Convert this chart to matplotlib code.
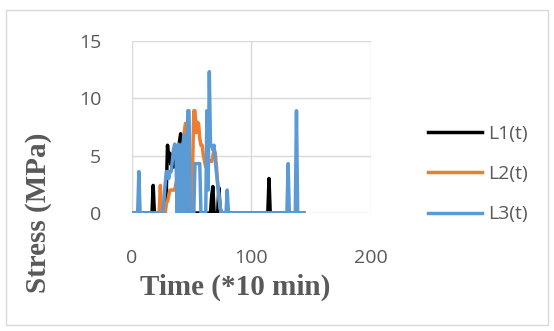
import matplotlib.pyplot as plt
from matplotlib.patches import Rectangle

# stress readings, time in units of 10 min (only the turning points of each trace)
l1_t = [0, 17, 18, 19, 28, 29, 30, 31, 32, 33, 34, 35, 36, 37, 38, 39, 40, 41,
        42, 43, 44, 45, 46, 47, 48, 66, 67, 68, 69, 72, 73, 74, 75, 114, 115,
        116, 144]
l1_v = [0, 0, 2.4, 0, 0, 2.0, 5.9, 4.5, 5.2, 4.2, 5.0, 4.0, 4.5, 5.0, 5.2, 5.5,
        6.2, 6.9, 5.8, 4.0, 5.0, 3.0, 1.5, 0.5, 0, 0, 1.5, 2.3, 0, 0, 2.2, 0.5,
        0, 0, 3.0, 0, 0]

l2_t = [0, 23, 24, 25, 28, 29, 30, 31, 32, 33, 34, 35, 36, 37, 38, 39, 40, 41,
        42, 43, 44, 45, 46, 47, 48, 49, 50, 51, 52, 53, 54, 55, 56, 57, 58, 59,
        60, 61, 62, 63, 64, 65, 66, 67, 68, 69, 70, 71, 72, 73, 74, 75, 144]
l2_v = [0, 0, 2.4, 0, 0, 0.9, 1.0, 1.5, 2.0, 2.0, 2.0, 2.0, 2.0, 2.5, 3.0, 4.0,
        5.0, 4.0, 5.0, 6.0, 7.0, 7.8, 7.8, 6.5, 5.0, 3.0, 0, 4.0, 8.9, 8.9, 7.0,
        7.9, 7.8, 6.5, 5.9, 5.9, 5.0, 4.5, 4.0, 4.5, 4.5, 4.5, 4.5, 4.5, 5.0,
        5.5, 5.2, 4.0, 2.6, 1.5, 0.5, 0, 0]

l3_t = [0, 5, 6, 7, 26, 27, 28, 29, 30, 31, 32, 33, 34, 35, 36, 37, 38, 39, 40,
        41, 42, 43, 44, 45, 46, 47, 48, 49, 52, 53, 57, 58, 62, 63, 64, 65, 66,
        67, 68, 69, 70, 71, 72, 73, 74, 75, 79, 80, 81, 130, 131, 132, 137, 138,
        139, 144]
l3_v = [0, 0, 3.6, 0, 0, 1.0, 2.5, 3.6, 3.6, 3.0, 3.6, 3.6, 4.5, 5.5, 6.0, 5.5,
        0, 6.0, 5.0, 0, 6.0, 0, 6.8, 0, 0, 8.9, 8.9, 0, 0, 4.3, 4.3, 0, 0, 8.9,
        2.0, 12.3, 5.9, 5.9, 5.5, 5.9, 4.5, 3.5, 2.5, 1.5, 0.5, 0, 0, 2.0, 0, 0,
        4.3, 0, 0, 8.9, 0, 0]

x_ticks = [0, 100, 200]
y_ticks = [0, 5, 10, 15]

grey = '#595959'

fig = plt.figure(figsize=(5.54, 3.31), dpi=100)
fig.add_artist(Rectangle((6 / 554, 6 / 331), 542 / 554, 315 / 331,
                         transform=fig.transFigure, fill=False,
                         edgecolor='#D9D9D9', linewidth=1))

ax = fig.add_axes([131.7 / 554, 1 - 213 / 331, 238.8 / 554, 172.3 / 331])
ax.plot(l1_t, l1_v, color='black', lw=2.5, label='L1(t)', solid_joinstyle='round')
ax.plot(l2_t, l2_v, color='#ED7D31', lw=2.5, label='L2(t)', solid_joinstyle='round')
ax.plot(l3_t, l3_v, color='#5B9BD5', lw=2.5, label='L3(t)', solid_joinstyle='round')

ax.set_xlim(0, 200)
ax.set_ylim(0, 15)
ax.set_xticks(x_ticks)
ax.set_yticks(y_ticks)
ax.grid(True, color='#D9D9D9', linewidth=1)
ax.set_axisbelow(True)
for s in ax.spines.values():
    s.set_visible(False)
ax.tick_params(length=0, labelsize=14, labelcolor=grey)
ax.tick_params(axis='x', pad=26)
ax.tick_params(axis='y', pad=22)
for lab in ax.get_xticklabels() + ax.get_yticklabels():
    lab.set_family('Open Sans')

fig.text(235.5 / 554, 1 - 287 / 331, 'Time (*10 min)', ha='center', va='center',
         fontsize=21, fontweight='bold', family='Liberation Serif', color=grey)
fig.text(39 / 554, 1 - 213 / 331, 'Stress (MPa)', ha='center', va='center',
         rotation=90, fontsize=21, fontweight='bold', family='Liberation Serif',
         color=grey)

fig.legend(loc='center left', bbox_to_anchor=(428 / 554, 1 - 174 / 331),
           frameon=False, borderpad=0, borderaxespad=0, handlelength=2.8,
           handletextpad=0.3, labelspacing=1.15,
           prop={'family': 'Open Sans', 'size': 14}, labelcolor=grey)

fig.savefig('out.png', dpi=100)
